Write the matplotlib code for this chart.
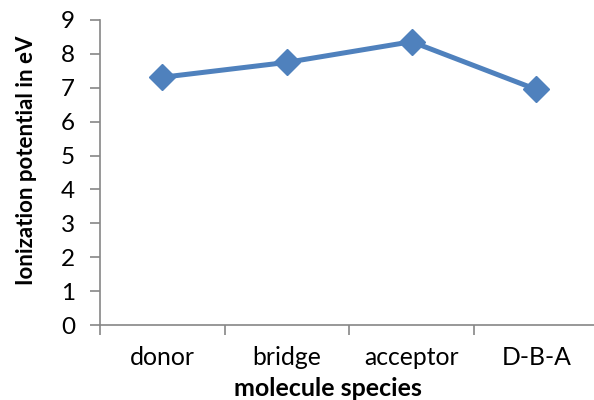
import matplotlib
matplotlib.use("Agg")
import matplotlib.pyplot as plt

categories = ["donor", "bridge", "acceptor", "D-B-A"]
values = [7.31, 7.75, 8.36, 6.95]
yticks = list(range(0, 10))

plt.rcParams['font.family'] = ['Lato', 'DejaVu Sans']

W, H = 594, 400
fig = plt.figure(figsize=(W/100, H/100), dpi=100)
ax = fig.add_axes([100/W, 75/H, 498.6/W, 305/H])

x = list(range(len(categories)))
ax.plot(x, values, color="#4F81BD", lw=3.6, marker="D", ms=13, clip_on=False)

ax.set_xlim(-0.5, len(categories) - 0.5)
ax.set_ylim(0, 9)
ax.set_yticks(yticks)
ax.set_yticklabels([str(v) for v in yticks])
ax.set_xticks(x)
ax.set_xticklabels(categories)
ax.set_xticks([i - 0.5 for i in range(len(categories) + 1)], minor=True)

gray = "#868686"
for s in ["top", "right"]:
    ax.spines[s].set_visible(False)
for s in ["left", "bottom"]:
    ax.spines[s].set_color(gray)
    ax.spines[s].set_linewidth(1.2)

ax.tick_params(axis="y", direction="out", length=7, width=1.2, color=gray, labelsize=17.5, pad=11)
ax.tick_params(axis="x", which="major", length=0, labelsize=17.8, pad=15)
ax.tick_params(axis="x", which="minor", direction="out", length=7, width=1.2, color=gray)

fig.text(27/W, 1 - 160.5/H, "Ionization potential in eV", fontsize=16, fontweight="bold",
         rotation=90, ha="center", va="center")
fig.text(327.5/W, 1 - 389/H, "molecule species", fontsize=18, fontweight="bold",
         ha="center", va="center")

fig.savefig("out.png", dpi=100)
